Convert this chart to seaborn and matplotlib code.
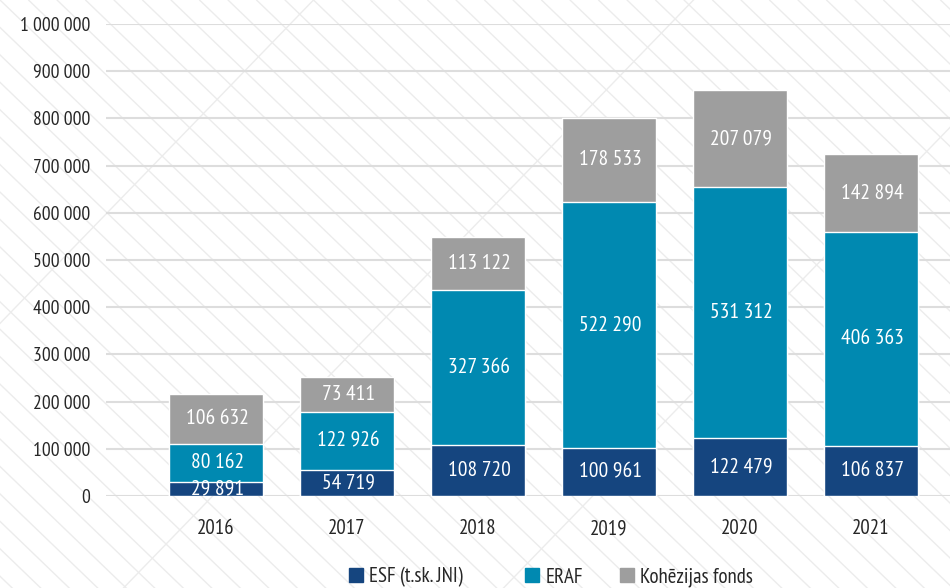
import matplotlib
matplotlib.use("Agg")
import matplotlib.pyplot as plt
import seaborn as sns
import pandas as pd
import numpy as np
from matplotlib.lines import Line2D
from matplotlib.patches import Patch

years = ["2016", "2017", "2018", "2019", "2020", "2021"]
# segment heights as drawn in the picture
esf = [29891, 54719, 108720, 100961, 122479, 106837]
eraf = [80162, 122926, 327366, 522290, 531312, 452000]
kf = [106632, 73411, 113122, 178533, 207079, 166000]
# labels as printed on the bars
esf_labels = ["29 891", "54 719", "108 720", "100 961", "122 479", "106 837"]
eraf_labels = ["80 162", "122 926", "327 366", "522 290", "531 312", "406 363"]
kf_labels = ["106 632", "73 411", "113 122", "178 533", "207 079", "142 894"]
series_names = ["ESF (t.sk. JNI)", "ERAF", "Kohēzijas fonds"]
colors = ["#15457f", "#0089b1", "#9e9e9e"]
ytick_labels = ["0", "100 000", "200 000", "300 000", "400 000", "500 000",
                "600 000", "700 000", "800 000", "900 000", "1 000 000"]

sns.set_theme(style="white")
plt.rcParams['font.family'] = ['PT Sans Narrow', 'DejaVu Sans']

fig = plt.figure(figsize=(9.5, 5.88), dpi=100)
fig.patch.set_facecolor("white")

for k in np.arange(-1.2, 1.6, 0.03):
    fig.add_artist(Line2D([k, k + 0.9], [1.0, -0.4], transform=fig.transFigure,
                          color="#ececec", lw=1.0, zorder=0))
for k in [0.15, 0.55, 0.95]:
    fig.add_artist(Line2D([k - 0.6, k + 0.3], [-0.3, 1.2], transform=fig.transFigure,
                          color="#ececec", lw=1.0, zorder=0))

ax = fig.add_axes([0.1116, 0.1565, 0.8884, 0.8027])
ax.patch.set_alpha(0)

bottoms = np.zeros(len(years))
parts = [esf, eraf, kf]
for vals, col in zip(parts, colors):
    d = pd.DataFrame({"year": years, "v": np.array(vals) + bottoms})
    sns.barplot(data=d, x="year", y="v", color=col, width=0.718, ax=ax, saturation=1)
    bottoms = bottoms + np.array(vals)

for i, cont in enumerate(ax.containers):
    for p in cont.patches:
        p.set_zorder(5 - i)

cum = np.zeros(len(years))
for vals, labs in zip(parts, [esf_labels, eraf_labels, kf_labels]):
    for i, (v, lab) in enumerate(zip(vals, labs)):
        ax.text(i + 0.01, cum[i] + v / 2, lab, ha="center", va="center",
                color="white", fontsize=15.5, zorder=10)
    cum = cum + np.array(vals)

ax.set_ylim(0, 1000000)
ax.set_xlim(-0.84, 5.603)
ax.set_yticks(np.arange(0, 1000001, 100000))
ax.set_yticklabels(ytick_labels, fontsize=14)
ax.tick_params(axis="x", labelsize=15, pad=16.5, length=0)
ax.tick_params(axis="y", pad=11.5, length=0)
ax.set_xlabel("")
ax.set_ylabel("")
ax.yaxis.grid(True, color="#dddddd", lw=1.5, zorder=0)
ax.set_axisbelow(True)
for s in ax.spines.values():
    s.set_visible(False)

legend_x = [349, 525, 620]
for c, n, x in zip(colors, series_names, legend_x):
    fig.legend(handles=[Patch(color=c, label=n)], loc="center left",
               bbox_to_anchor=(x / 950, 0.0185), frameon=False, fontsize=15,
               handlelength=0.67, handleheight=0.67, handletextpad=0.3,
               borderpad=0, borderaxespad=0)

fig.savefig("out.png", dpi=100, facecolor="white")
